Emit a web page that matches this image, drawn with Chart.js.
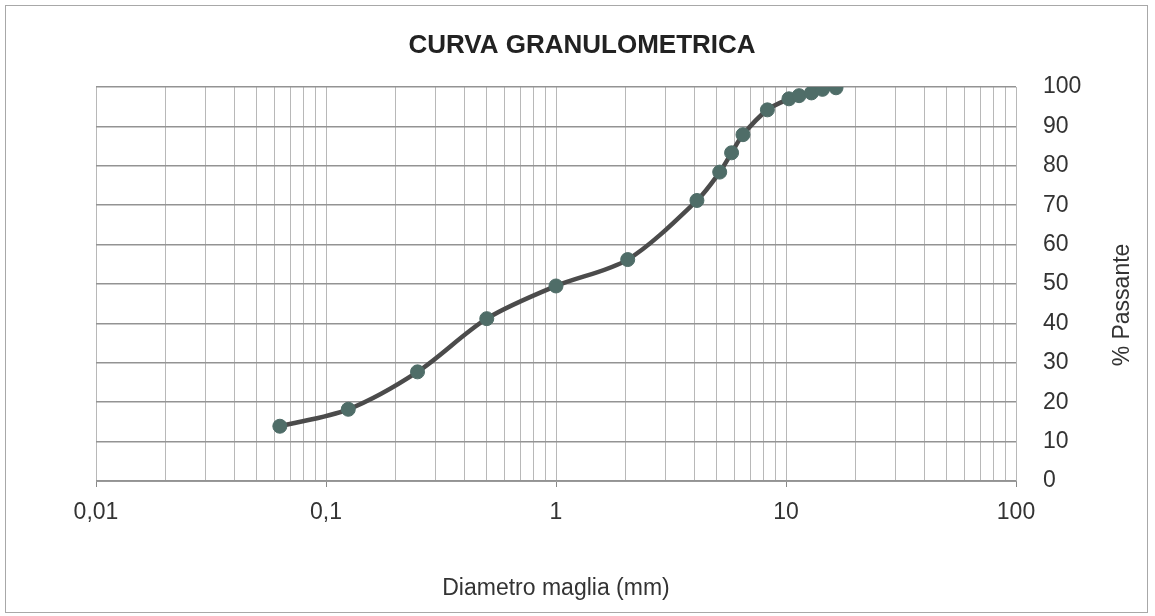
<!DOCTYPE html>
<html>
<head>
<meta charset="utf-8">
<script src="https://cdn.jsdelivr.net/npm/chart.js@4/dist/chart.umd.min.js"></script>
<style>
  html, body { margin: 0; padding: 0; background: #fff; }
  #wrap { width: 1155px; height: 616px; }
</style>
</head>
<body>
<div id="wrap"><canvas id="myChart"></canvas></div>
<script>
// sieve sizes (mm) and % passing
const diametri = [0.063, 0.125, 0.25, 0.5, 1, 2.05, 4.1, 5.15, 5.8, 6.5, 8.3, 10.3, 11.4, 12.9, 14.4, 16.5];
const passante = [13.9, 18.2, 27.7, 41.2, 49.5, 56.2, 71.2, 78.4, 83.3, 87.9, 94.2, 97.0, 97.8, 98.5, 99.4, 99.8];

const xTickValues = [0.01, 0.1, 1, 10, 100];
const xTickLabels = ["0,01", "0,1", "1", "10", "100"];

const titolo = "CURVA GRANULOMETRICA";
const titoloX = "Diametro maglia (mm)";
const titoloY = "% Passante";

const punti = diametri.map((d, i) => ({ x: d, y: passante[i] }));

function labelFor(v) {
    const e = Math.log10(v);
    if (Math.abs(e - Math.round(e)) > 1e-6) return null;
    const idx = xTickValues.findIndex(t => Math.abs(Math.log10(t) - e) < 1e-6);
    return idx >= 0 ? xTickLabels[idx] : null;
}

const FONT = "'Liberation Sans', Arial, sans-serif";

// white background, outer frame, chart title and rotated right-hand axis title
const cornice = {
    id: "cornice",
    beforeDraw(c) {
        const ctx = c.ctx;
        ctx.save();
        ctx.fillStyle = "#fff";
        ctx.fillRect(0, 0, c.width, c.height);
        ctx.restore();
    },
    afterDraw(c) {
        const ctx = c.ctx;
        ctx.save();
        ctx.strokeStyle = "#a8a8a8";
        ctx.lineWidth = 1;
        ctx.strokeRect(5.5, 5.5, 1142, 607);

        ctx.fillStyle = "#222";
        ctx.font = "bold 26px " + FONT;
        ctx.textAlign = "center";
        ctx.textBaseline = "middle";
        ctx.fillText(titolo, 582, 46);

        ctx.translate(1123, 305);
        ctx.rotate(-Math.PI / 2);
        ctx.fillStyle = "#333";
        ctx.font = "23px " + FONT;
        ctx.fillText(titoloY, 0, 0);
        ctx.restore();
    }
};

const config = {
    type: "scatter",
    data: {
        datasets: [{
            label: "Passante",
            data: punti,
            showLine: true,
            tension: 0.3,
            borderColor: "#4b4b4b",
            borderWidth: 4.5,
            pointRadius: 7,
            pointHoverRadius: 7,
            pointBackgroundColor: "#4f6d68",
            pointBorderColor: "#4f6d68",
            pointBorderWidth: 1
        }]
    },
    options: {
        responsive: true,
        maintainAspectRatio: false,
        animation: false,
        layout: { padding: { left: 96, right: 0, top: 87, bottom: 0 } },
        plugins: {
            legend: { display: false },
            tooltip: { enabled: false },
            title: { display: false }
        },
        scales: {
            x: {
                type: "logarithmic",
                position: "bottom",
                min: 0.01,
                max: 100,
                afterBuildTicks(s) {
                    // 1..9 per decade, like the log gridlines in the picture
                    const t = [];
                    for (let k = 0; k < xTickValues.length - 1; k++) {
                        for (let m = 1; m <= 9; m++) t.push({ value: xTickValues[k] * m });
                    }
                    t.push({ value: xTickValues[xTickValues.length - 1] });
                    s.ticks = t;
                },
                afterFit(s) {
                    s.height = 135;
                    s.paddingLeft = 0;
                    s.paddingRight = 0;
                },
                ticks: {
                    autoSkip: false,
                    maxRotation: 0,
                    padding: 12,
                    color: "#333",
                    font: { family: FONT, size: 23 },
                    callback: (v) => labelFor(v) || ""
                },
                grid: {
                    color: "#b8b8b8",
                    lineWidth: 1,
                    tickLength: 6,
                    tickColor: (ctx) => (ctx.tick && labelFor(ctx.tick.value) !== null) ? "#888" : "rgba(0,0,0,0)"
                },
                border: { color: "#999", width: 1 },
                title: {
                    display: true,
                    text: titoloX,
                    color: "#333",
                    font: { family: FONT, size: 23, lineHeight: 1.2 },
                    padding: { top: 0, bottom: 14 }
                }
            },
            y: {
                position: "right",
                min: 0,
                max: 100,
                afterFit(s) {
                    s.width = 139;
                    s.paddingTop = 0;
                    s.paddingBottom = 0;
                },
                ticks: {
                    stepSize: 10,
                    padding: 27,
                    color: "#333",
                    font: { family: FONT, size: 23 }
                },
                grid: {
                    color: "#939393",
                    lineWidth: 1.5,
                    drawTicks: false
                },
                border: { display: false }
            }
        }
    },
    plugins: [cornice]
};

const myChart = document.getElementById("myChart");
let chart = new Chart(myChart, config);
</script>
</body>
</html>
